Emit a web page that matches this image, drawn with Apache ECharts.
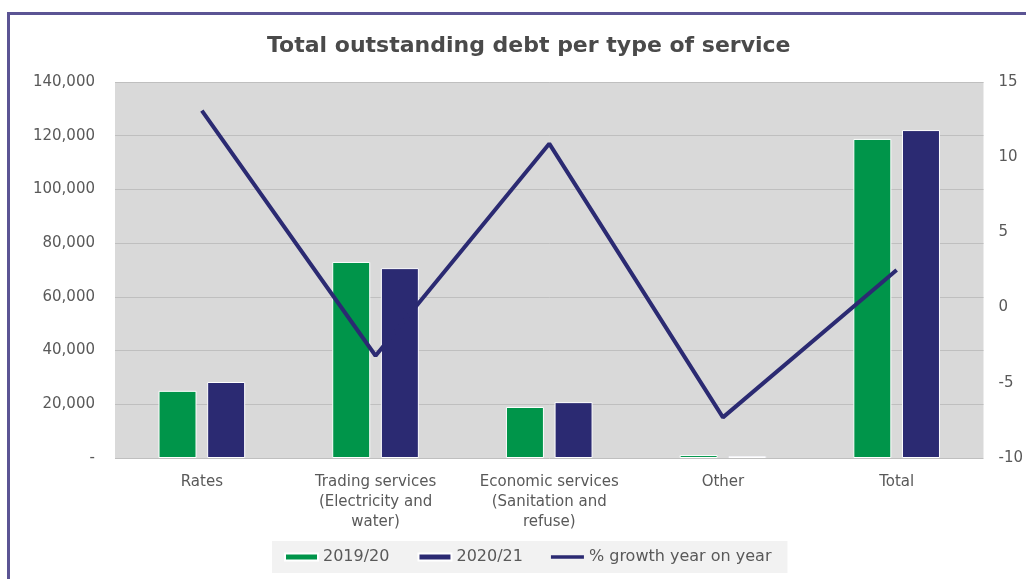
<!DOCTYPE html>
<html>
<head>
<meta charset="utf-8">
<script src="https://cdn.jsdelivr.net/npm/echarts@6/dist/echarts.min.js"></script>
<style>
  html, body { margin: 0; padding: 0; background: #fff; overflow: hidden; }
  .frame { position: absolute; left: 7px; top: 12px; width: 1040px; height: 600px; border: 3px solid #5b5494; box-sizing: border-box; }
  #chart { position: absolute; left: 0; top: 0; width: 1026px; height: 579px; }
</style>
</head>
<body>
<div class="frame"></div>
<div id="chart"></div>
<script>
var categories = [
  "Rates",
  "Trading services\n(Electricity and\nwater)",
  "Economic services\n(Sanitation and\nrefuse)",
  "Other",
  "Total"
];
var debt2019 = [25000, 73000, 19000, 1100, 118800];
var debt2020 = [28300, 70700, 20800, 700, 122100];
var growth = [13.1, -3.2, 10.9, -7.3, 2.5];
var leftTicks = [0, 20000, 40000, 60000, 80000, 100000, 120000, 140000];
var rightTicks = [-10, -5, 0, 5, 10, 15];

var font = "DejaVu Sans";
var chart = echarts.init(document.getElementById("chart"));
var option = {
  animation: false,
  title: {
    text: "Total outstanding debt per type of service",
    left: 262,
    top: 30,
    textStyle: { fontFamily: font, fontSize: 22, fontWeight: "bold", color: "#4a4a4a" }
  },
  legend: {
    bottom: 6,
    left: 272,
    backgroundColor: "#f2f2f2",
    padding: [8, 16, 8, 12],
    itemGap: 28,
    itemWidth: 33,
    itemHeight: 7,
    textStyle: { fontFamily: font, fontSize: 16, color: "#595959" },
    data: [
      { name: "2019/20", icon: "rect" },
      { name: "2020/21", icon: "rect" },
      { name: "% growth year on year", icon: "path://M0,0 L40,0 L40,4 L0,4 Z", itemStyle: { color: "#2b2a72" } }
    ]
  },
  grid: { left: 115, right: 40, top: 82, bottom: 121 },
  xAxis: {
    type: "category",
    data: categories,
    axisLine: { show: false },
    axisTick: { show: false },
    axisLabel: { fontFamily: font, fontSize: 15, color: "#595959", lineHeight: 20, margin: 14, interval: 0 }
  },
  yAxis: [
    {
      type: "value",
      min: 0,
      max: 140000,
      interval: 20000,
      splitArea: { show: true, areaStyle: { color: ["#d9d9d9"] } },
      splitLine: { lineStyle: { color: "#bfbfbf", width: 1 } },
      axisLine: { show: false },
      axisTick: { show: false },
      axisLabel: {
        fontFamily: font, fontSize: 15, color: "#595959", margin: 20,
        formatter: function (v) {
          return v === 0 ? "-" : v.toLocaleString("en-US");
        }
      }
    },
    {
      type: "value",
      min: -10,
      max: 15,
      interval: 5,
      splitLine: { show: false },
      axisLine: { show: false },
      axisTick: { show: false },
      axisLabel: { fontFamily: font, fontSize: 15, color: "#595959", margin: 15 }
    }
  ],
  series: [
    {
      name: "2019/20",
      type: "bar",
      data: debt2019,
      barWidth: 38,
      barGap: "28%",
      itemStyle: { color: "#00954a", borderColor: "#ffffff", borderWidth: 1 }
    },
    {
      name: "2020/21",
      type: "bar",
      data: debt2020,
      barWidth: 38,
      itemStyle: { color: "#2b2a72", borderColor: "#ffffff", borderWidth: 1 }
    },
    {
      name: "% growth year on year",
      type: "line",
      yAxisIndex: 1,
      data: growth,
      symbol: "none",
      lineStyle: { color: "#2b2a72", width: 4 },
      itemStyle: { color: "#2b2a72" },
      z: 5
    }
  ]
};
chart.setOption(option);
window.addEventListener("resize", chart.resize);
</script>
</body>
</html>
